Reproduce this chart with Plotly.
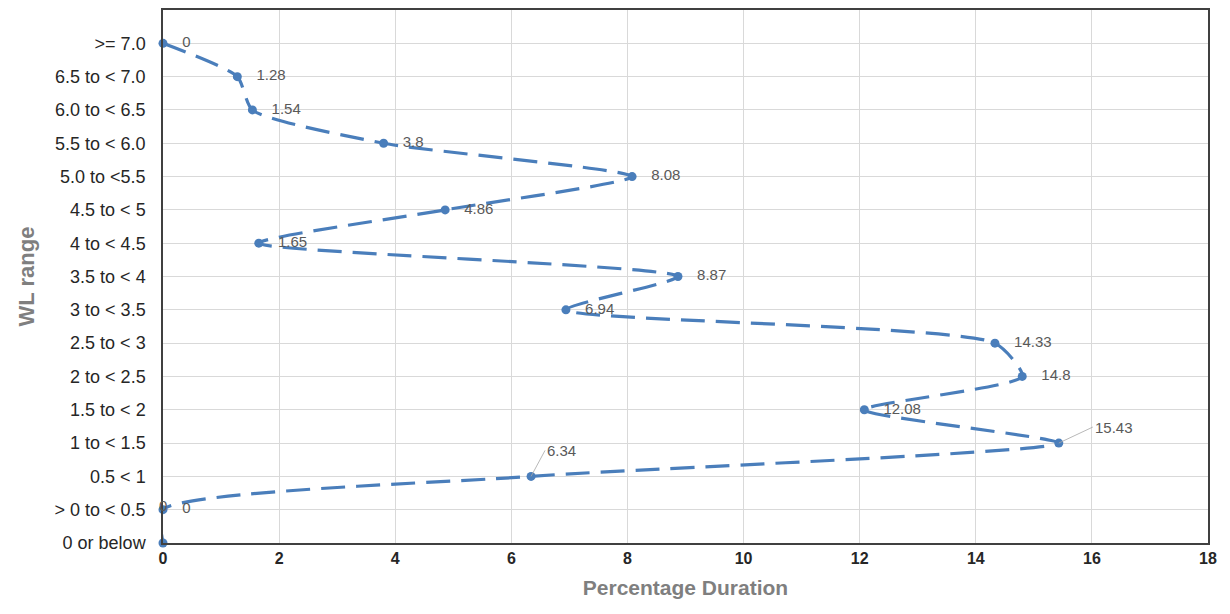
import plotly.graph_objects as go

categories = ["0 or below", "> 0 to < 0.5", "0.5 < 1", "1 to < 1.5", "1.5 to < 2",
              "2 to < 2.5", "2.5 to < 3", "3 to < 3.5", "3.5 to < 4", "4 to < 4.5",
              "4.5 to < 5", "5.0 to <5.5", "5.5 to < 6.0", "6.0 to < 6.5",
              "6.5 to < 7.0", ">= 7.0"]
duration = [0, 0, 6.34, 15.43, 12.08, 14.8, 14.33, 6.94, 8.87, 1.65, 4.86,
            8.08, 3.8, 1.54, 1.28, 0]
x_ticks = [0, 2, 4, 6, 8, 10, 12, 14, 16, 18]

# labels drawn with leader lines (callouts) instead of inline text
callout = {"0.5 < 1": (14, -26), "1 to < 1.5": (34, -16)}
labels = ["" if c in callout or i == 0 else "   " + f"{v:g}" for i, (c, v) in enumerate(zip(categories, duration))]

blue = "#4A7EBB"
lab_font = dict(family="Liberation Sans Narrow, Liberation Sans", size=15, color="#595959")
fig = go.Figure()
fig.add_trace(go.Scatter(
    x=duration[::-1], y=categories[::-1],
    mode="lines+markers+text",
    line=dict(color=blue, width=3.2, dash="24px,11px", shape="spline", smoothing=0.6),
    marker=dict(color=blue, size=9),
    text=labels[::-1], textposition="middle right",
    textfont=lab_font,
    cliponaxis=False, showlegend=False,
))

for c, (ax, ay) in callout.items():
    i = categories.index(c)
    fig.add_annotation(x=duration[i], y=c, text=f"{duration[i]:g}", showarrow=True,
                       arrowhead=0, arrowwidth=0.8, arrowcolor="#A6A6A6",
                       ax=ax, ay=ay, xanchor="left", yanchor="middle", font=lab_font)

# label of "0 or below" point sits above it
fig.add_annotation(x=duration[0], y=categories[1], text="0", showarrow=False,
                   xanchor="center", yanchor="bottom", yshift=-6, font=lab_font)

# the page body has an 8px margin, so the figure is shifted by 8px
fig.update_layout(
    width=1222, height=606,
    margin=dict(l=155, r=22, t=2, b=71),
    paper_bgcolor="white", plot_bgcolor="white",
    font=dict(family="Liberation Sans", color="#404040"),
    xaxis=dict(range=[0, 18], tickmode="linear", tick0=x_ticks[0], dtick=x_ticks[1] - x_ticks[0],
               showgrid=True, gridcolor="#D9D9D9", minor=dict(showgrid=False),
               gridwidth=1, zeroline=False, showline=True, linecolor="#404040",
               linewidth=1.5, mirror=True, automargin=False,
               tickfont=dict(family="Liberation Sans Narrow, Liberation Sans", size=16, color="#262626", weight="bold"),
               title=dict(text="Percentage Duration", standoff=14,
                          font=dict(family="Liberation Sans Narrow, Liberation Sans", size=21, color="#7F7F7F", weight="bold"))),
    yaxis=dict(type="category", categoryorder="array", categoryarray=categories,
               range=[0, 16], showgrid=True, gridcolor="#D9D9D9", gridwidth=1,
               zeroline=False, showline=True, linecolor="#404040", linewidth=1.5, mirror=True,
               ticks="", ticklabelstandoff=12, automargin=False,
               tickfont=dict(family="Liberation Sans", size=18, color="#262626"),
               title=dict(text="WL range", standoff=14,
                          font=dict(family="Liberation Sans", size=22, color="#7F7F7F", weight="bold"))),
)
fig.write_html("out.html")
